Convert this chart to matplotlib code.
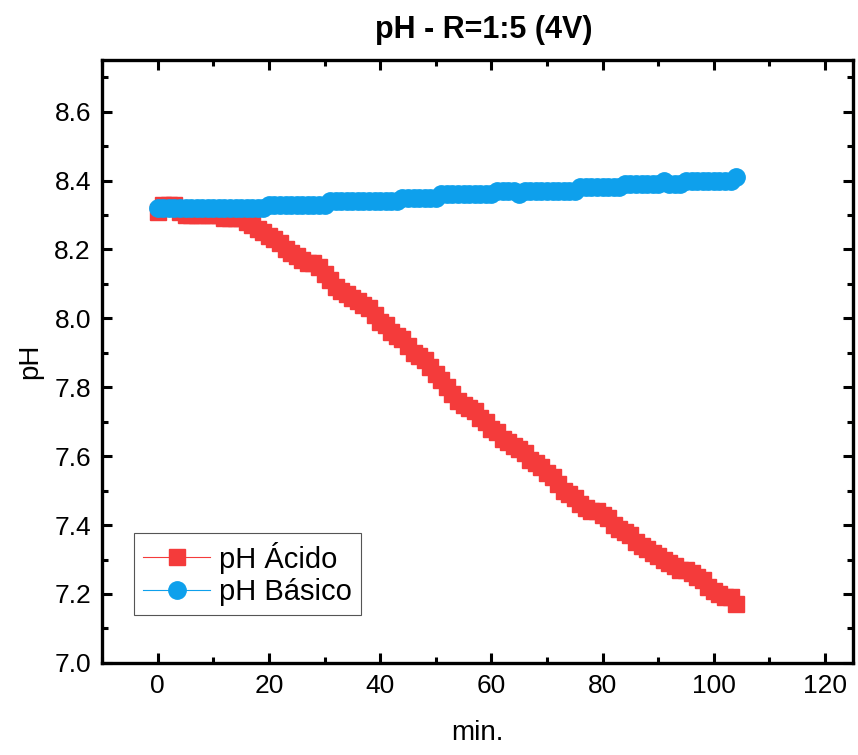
import numpy as np
import matplotlib
matplotlib.use("Agg")
import matplotlib.pyplot as plt
from matplotlib.ticker import MultipleLocator

plt.rcParams['font.family'] = ['Liberation Sans', 'DejaVu Sans']

# time in minutes (one reading per minute)
t_min = np.arange(0, 105)

ph_acido = [8.31, 8.33, 8.33, 8.33, 8.31, 8.30, 8.30, 8.30, 8.30, 8.30,
            8.30, 8.30, 8.29, 8.29, 8.29, 8.29, 8.28, 8.27, 8.26, 8.25,
            8.24, 8.23, 8.22, 8.20, 8.19, 8.18, 8.17, 8.16, 8.16, 8.15,
            8.13, 8.11, 8.09, 8.08, 8.07, 8.06, 8.05, 8.04, 8.03, 8.01,
            7.99, 7.98, 7.96, 7.95, 7.94, 7.92, 7.90, 7.89, 7.88, 7.86,
            7.84, 7.82, 7.80, 7.78, 7.76, 7.75, 7.74, 7.73, 7.71, 7.70,
            7.68, 7.67, 7.65, 7.64, 7.63, 7.62, 7.61, 7.59, 7.58, 7.57,
            7.55, 7.54, 7.52, 7.50, 7.49, 7.48, 7.46, 7.45, 7.44, 7.44,
            7.43, 7.42, 7.40, 7.39, 7.38, 7.37, 7.35, 7.34, 7.33, 7.32,
            7.31, 7.30, 7.29, 7.28, 7.27, 7.27, 7.26, 7.25, 7.24, 7.22,
            7.21, 7.20, 7.19, 7.19, 7.17]

ph_basico = [8.32]*20 + [8.33]*11 + [8.34]*13 + [8.35]*7 + [8.36]*10 + \
            [8.37]*4 + [8.36] + [8.37]*10 + [8.38]*8 + [8.39]*7 + [8.40] + \
            [8.39]*3 + [8.40]*9 + [8.41]

red = '#f43b3b'
blue = '#0ea0ec'

fig = plt.figure(figsize=(8.58, 7.55), dpi=100)
ax = fig.add_axes([0.119, 0.122, 0.875, 0.7985])

ax.plot(t_min, ph_acido, color=red, marker='s', markersize=11, lw=1,
        label='pH Ácido')
ax.plot(t_min, ph_basico, color=blue, marker='o', markersize=12.5, lw=1,
        label='pH Básico')

ax.set_xlim(-10, 125)
ax.set_ylim(7.0, 8.75)
ax.xaxis.set_major_locator(MultipleLocator(20))
ax.xaxis.set_minor_locator(MultipleLocator(10))
ax.yaxis.set_major_locator(MultipleLocator(0.2))
ax.yaxis.set_minor_locator(MultipleLocator(0.1))
ax.yaxis.set_major_formatter(matplotlib.ticker.FormatStrFormatter('%.1f'))

ax.tick_params(which='both', direction='in', top=True, right=True,
               width=2.2, labelsize=19)
ax.tick_params(which='major', length=7, pad=8)
ax.tick_params(which='minor', length=4)
for s in ax.spines.values():
    s.set_linewidth(2.4)

ax.set_xlabel('min.', fontsize=20, labelpad=16)
ax.set_ylabel('pH', fontsize=20, labelpad=8)
fig.text(0.564, 0.96, 'pH - R=1:5 (4V)', ha='center', va='center',
         fontsize=22, fontweight='bold')

leg = ax.legend(loc='lower left', bbox_to_anchor=(0.043, 0.08),
                borderaxespad=0, fontsize=21, fancybox=False,
                handlelength=2.3, handletextpad=0.3, borderpad=0.3,
                labelspacing=0.15, framealpha=1)
leg.get_frame().set_edgecolor('#555555')
leg.get_frame().set_linewidth(0.8)
for h in leg.get_lines():
    h.set_linewidth(0.8)

fig.savefig('out.png', dpi=100)
